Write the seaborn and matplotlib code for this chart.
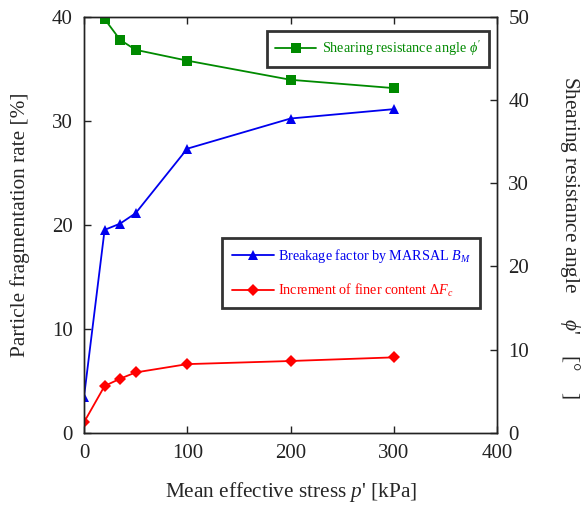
import matplotlib
matplotlib.use("Agg")
import matplotlib.pyplot as plt
import seaborn as sns
import pandas as pd

# Mean effective stress p' [kPa]
stress = [0, 20, 35, 50, 100, 200, 300]
stress_phi = [20, 35, 50, 100, 200, 300]
# Breakage factor by Marsal B_M [%]
breakage = [3.4, 19.5, 20.1, 21.1, 27.3, 30.2, 31.1]
# Increment of finer content dFc [%]
finer = [1.0, 4.5, 5.2, 5.8, 6.6, 6.9, 7.25]
# Shearing resistance angle phi' [deg]
phi = [49.7, 47.2, 46.0, 44.7, 42.4, 41.4]

x_ticks = [0, 100, 200, 300, 400]
left_ticks = [0, 10, 20, 30, 40]
right_ticks = [0, 10, 20, 30, 40, 50]

sns.set_theme(style="ticks")
plt.rcParams["font.family"] = ["Liberation Serif", "DejaVu Serif"]
plt.rcParams["mathtext.fontset"] = "custom"
plt.rcParams["mathtext.rm"] = "Liberation Serif"
plt.rcParams["mathtext.it"] = "Liberation Serif:italic"
plt.rcParams["mathtext.cal"] = "Liberation Serif:italic"

df_main = pd.DataFrame({"p": stress, "BM": breakage, "dFc": finer})
df_phi = pd.DataFrame({"p": stress_phi, "phi": phi})

fig, ax = plt.subplots(figsize=(5.87, 5.08), dpi=100)
fig.subplots_adjust(left=0.143, right=0.847, top=0.9675, bottom=0.148)
ax2 = ax.twinx()

blue = "#0000ee"
red = "#ff0000"
green = "#008a00"

sns.lineplot(data=df_main, x="p", y="BM", ax=ax, color=blue, marker="^",
             markersize=7.5, markeredgewidth=0, linewidth=1.3,
             label="Breakage factor by MARSAL $B_{M}$")
sns.lineplot(data=df_main, x="p", y="dFc", ax=ax, color=red, marker="D",
             markersize=6.3, markeredgewidth=0, linewidth=1.3,
             label="Increment of finer content $\\Delta F_{c}$")
sns.lineplot(data=df_phi, x="p", y="phi", ax=ax2, color=green, marker="s",
             markersize=6.5, markeredgewidth=0, linewidth=1.3,
             label="Shearing resistance angle $\\phi'$")

ax.set_xlim(0, 400)
ax.set_ylim(0, 40)
ax2.set_ylim(0, 50)
ax.set_xticks(x_ticks)
ax.set_yticks(left_ticks)
ax2.set_yticks(right_ticks)

tick_fs = 15
ax.tick_params(axis="both", direction="in", length=5, width=1, labelsize=tick_fs,
               top=True, pad=8, colors="#222222", labelcolor="#222222")
ax2.tick_params(axis="y", direction="in", length=5, width=1, labelsize=tick_fs,
                pad=8, colors="#222222", labelcolor="#222222")
for a in (ax, ax2):
    for s in a.spines.values():
        s.set_linewidth(1.0)
        s.set_color("#222222")

ax.set_xlabel("Mean effective stress $p$' [kPa]", fontsize=15.3, labelpad=12)
ax.set_ylabel("Particle fragmentation rate [%]", fontsize=15.3, labelpad=16)
ax2.set_ylabel("Shearing resistance angle     $\\phi$'    [°    ]", fontsize=15.3,
               rotation=-90, labelpad=38)
ax2.yaxis.label.set_y(0.47)

leg_fs = 10.2
leg1 = ax.legend(loc="upper left", bbox_to_anchor=(0.335, 0.468),
                 fontsize=leg_fs, frameon=True, fancybox=False,
                 handlelength=3.0, handletextpad=0.25,
                 borderpad=0.65, labelspacing=1.15, borderaxespad=0)
leg1.get_frame().set_edgecolor("black")
leg1.get_frame().set_linewidth(2)
for t, c in zip(leg1.get_texts(), [blue, red]):
    t.set_color(c)

leg2 = ax2.legend(loc="upper left", bbox_to_anchor=(0.442, 0.966),
                  fontsize=leg_fs, frameon=True, fancybox=False,
                  handlelength=2.9, handletextpad=0.4,
                  borderpad=0.6, borderaxespad=0)
leg2.get_frame().set_edgecolor("black")
leg2.get_frame().set_linewidth(2)
for t in leg2.get_texts():
    t.set_color(green)

fig.savefig("out.png", dpi=100)
